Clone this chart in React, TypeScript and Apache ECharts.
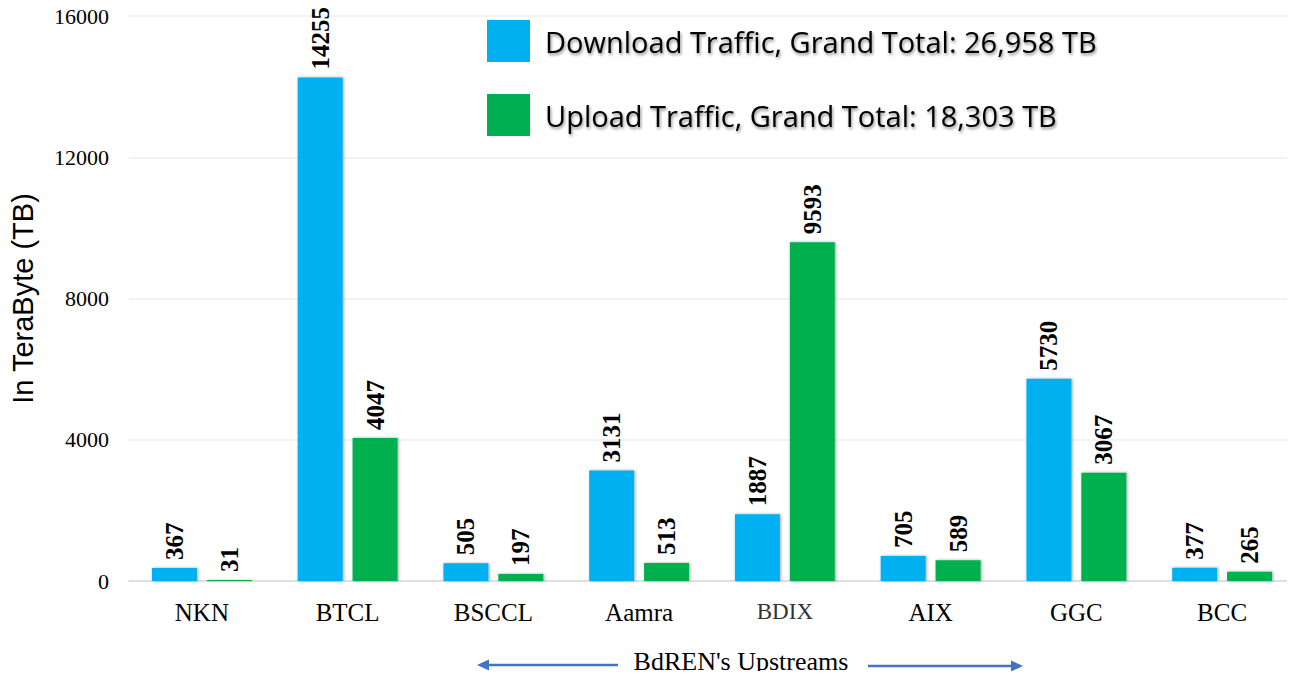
import React, { useEffect, useRef } from "react";
import * as echarts from "echarts";

const categories = ["NKN", "BTCL", "BSCCL", "Aamra", "BDIX", "AIX", "GGC", "BCC"];
const downloadValues = [367, 14255, 505, 3131, 1887, 705, 5730, 377];
const uploadValues = [31, 4047, 197, 513, 9593, 589, 3067, 265];
const downloadName = "Download Traffic, Grand Total: 26,958 TB";
const uploadName = "Upload Traffic, Grand Total: 18,303 TB";
const yTitle = "In TeraByte (TB)";
const xTitle = "BdREN's Upstreams";

export default function App() {
  const ref = useRef<HTMLDivElement>(null);
  useEffect(() => {
    if (!ref.current) return;
    const chart = echarts.init(ref.current, undefined, { renderer: "svg" });
    const valueLabel = {
      show: true,
      position: "top",
      rotate: 90,
      align: "left",
      verticalAlign: "middle",
      distance: 8,
      fontFamily: "Liberation Serif",
      fontWeight: "bold",
      fontSize: 25,
      color: "#000",
    };
    const barShadow = {
      shadowBlur: 3,
      shadowColor: "rgba(0,0,0,0.35)",
      shadowOffsetX: 1,
      shadowOffsetY: 0,
    };
    chart.setOption({
      animation: false,
      backgroundColor: "#fff",
      grid: { left: 129, right: 0, top: 16, bottom: 98 },
      legend: {
        orient: "vertical",
        left: 487,
        top: 20,
        padding: 0,
        itemWidth: 43,
        itemHeight: 42,
        itemGap: 32,
        icon: "rect",
        data: [downloadName, uploadName],
        textStyle: {
          fontFamily: "Open Sans",
          fontSize: 29,
          color: "#000",
          padding: [0, 0, 0, 10],
          textShadowColor: "rgba(0,0,0,0.45)",
          textShadowBlur: 3,
          textShadowOffsetX: 1,
          textShadowOffsetY: 2,
        },
      },
      xAxis: {
        type: "category",
        data: categories,
        axisLine: { lineStyle: { color: "#d9d9d9", width: 1.5 } },
        axisTick: { show: false },
        axisLabel: {
          margin: 19,
          fontFamily: "Liberation Serif",
          fontSize: 25,
          color: "#000",
          formatter: (v: string) => (v === "BDIX" ? "{b|" + v + "}" : v),
          rich: {
            b: { fontFamily: "Liberation Serif", fontSize: 23, color: "#333" },
          },
        },
      },
      yAxis: {
        type: "value",
        min: 0,
        max: 16000,
        interval: 4000,
        name: yTitle,
        nameLocation: "middle",
        nameRotate: 90,
        nameGap: 92,
        nameTextStyle: { fontFamily: "Liberation Sans", fontSize: 29, color: "#000" },
        axisLine: { show: false },
        axisTick: { show: false },
        splitLine: { lineStyle: { color: "#eeeeee", width: 1.5 } },
        axisLabel: {
          margin: 20,
          fontFamily: "Liberation Serif",
          fontSize: 22,
          color: "#000",
          formatter: (v: number) => String(v),
        },
      },
      series: [
        {
          name: downloadName,
          type: "bar",
          data: downloadValues,
          barWidth: 45,
          barGap: "22%",
          itemStyle: { color: "#00B0F0", ...barShadow },
          label: valueLabel,
        },
        {
          name: uploadName,
          type: "bar",
          data: uploadValues,
          barWidth: 45,
          itemStyle: { color: "#00B050", ...barShadow },
          label: valueLabel,
        },
      ],
      graphic: [
        {
          type: "text",
          x: 741,
          y: 661,
          style: {
            text: xTitle,
            font: "26px 'Liberation Serif'",
            fill: "#000",
            align: "center",
            verticalAlign: "middle",
          },
        },
        {
          type: "line",
          shape: { x1: 485, y1: 665, x2: 618, y2: 665 },
          style: { stroke: "#4472C4", lineWidth: 2.5 },
        },
        {
          type: "polygon",
          shape: { points: [[477, 665], [489, 659.5], [489, 670.5]] },
          style: { fill: "#4472C4" },
        },
        {
          type: "line",
          shape: { x1: 868, y1: 666, x2: 1015, y2: 666 },
          style: { stroke: "#4472C4", lineWidth: 2.5 },
        },
        {
          type: "polygon",
          shape: { points: [[1023, 666], [1011, 660.5], [1011, 671.5]] },
          style: { fill: "#4472C4" },
        },
      ],
    });
    return () => chart.dispose();
  }, []);
  return <div ref={ref} style={{ width: 1295, height: 679, margin: -8 }} />;
}
